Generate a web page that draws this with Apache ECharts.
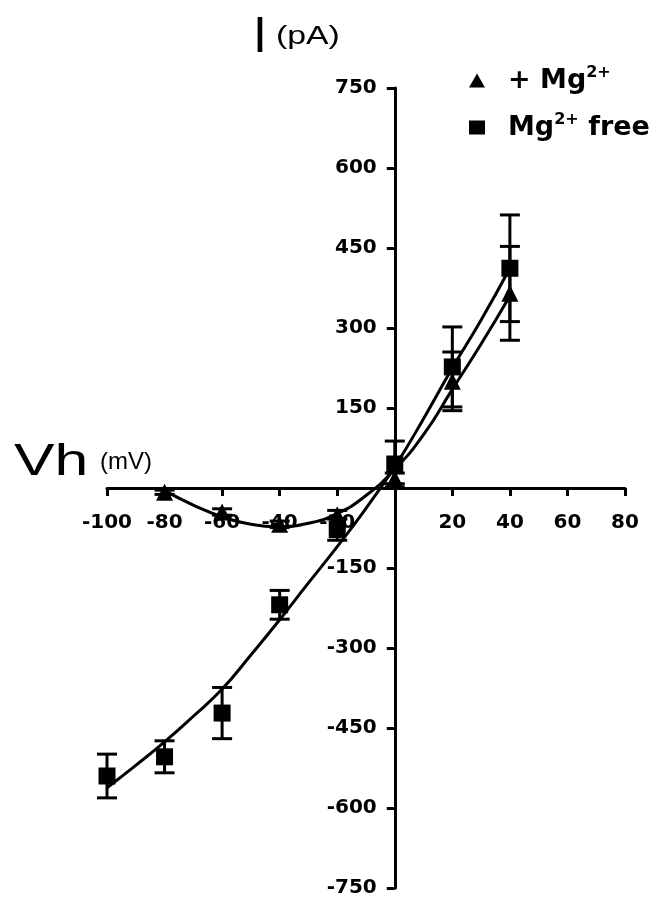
<!DOCTYPE html>
<html><head><meta charset="utf-8">
<script src="https://cdn.jsdelivr.net/npm/echarts@6/dist/echarts.min.js"></script>
<style>html,body{margin:0;padding:0;background:#fff}#c{width:660px;height:906px}</style>
</head><body><div id="c"></div>
<script>
// Data
const xTicks = [-100, -80, -60, -40, -20, 0, 20, 40, 60, 80];
const yTicks = [-750, -600, -450, -300, -150, 0, 150, 300, 450, 600, 750];

const freeV   = [-100, -80, -60, -40, -20, 0, 20, 40];
const freeI   = [-540, -504, -422, -219, -78, 45, 227, 412];
const freeErr = [41, 30, 48, 27, 20, 43, 75, 100];

const mgV   = [-80, -60, -40, -20, 0, 20, 40];
const mgI   = [-8, -45, -68, -50, 18, 200, 365];
const mgErr = [4, 6, 6, 8, 10, 55, 88];

const fitFreeV = [-100, -90, -80, -70, -60, -50, -40, -30, -20, -10, 0, 10, 20, 30, 40];
const fitFreeI = [-562, -520, -476, -428, -377, -313, -247, -178, -110, -38, 40, 130, 225, 315, 412];
const fitMgV = [-80, -70, -60, -50, -40, -30, -20, -10, 0, 10, 20, 30, 40];
const fitMgI = [-5, -32, -54, -68, -72, -66, -48, -14, 35, 100, 185, 270, 360];

const zip = (a, b) => a.map((v, i) => [v, b[i]]);
const errData = (v, m, e) => v.map((x, i) => [x, m[i] - e[i], m[i] + e[i]]);

function errRender(params, api) {
  const x = api.value(0);
  const lo = api.coord([x, api.value(1)]);
  const hi = api.coord([x, api.value(2)]);
  const w = 10;
  const st = { stroke: '#000', lineWidth: 3 };
  return { type: 'group', children: [
    { type: 'line', shape: { x1: lo[0], y1: lo[1], x2: hi[0], y2: hi[1] }, style: st },
    { type: 'line', shape: { x1: lo[0] - w, y1: lo[1], x2: lo[0] + w, y2: lo[1] }, style: st },
    { type: 'line', shape: { x1: hi[0] - w, y1: hi[1], x2: hi[0] + w, y2: hi[1] }, style: st }
  ]};
}

const GL = 107, GR = 35, GT = 88, GB = 18;
const W = 660, H = 906;
const plotW = W - GL - GR, plotH = H - GT - GB;
const xMin = xTicks[0], xMax = xTicks[xTicks.length - 1];
const yMin = yTicks[0], yMax = yTicks[yTicks.length - 1];
// shift axes so they cross at the origin
const yAxisOffset = -plotW * (0 - xMin) / (xMax - xMin);
const xAxisOffset = -plotH * (0 - yMin) / (yMax - yMin);

const chart = echarts.init(document.getElementById('c'));
const lab = { fontFamily: 'DejaVu Sans', fontWeight: 'bold', fontSize: 20, color: '#000' };
const titleFont = 'Liberation Sans';
chart.setOption({
  animation: false,
  backgroundColor: '#fff',
  grid: { left: GL, right: GR, top: GT, bottom: GB },
  xAxis: {
    type: 'value', min: xMin, max: xMax, interval: 20, offset: xAxisOffset,
    axisLine: { onZero: false, lineStyle: { color: '#000', width: 3 } },
    axisTick: { length: 8, lineStyle: { color: '#000', width: 3 } },
    axisLabel: Object.assign({ margin: 25, formatter: v => (v === 0 ? '' : String(v)) }, lab),
    splitLine: { show: false }
  },
  yAxis: {
    type: 'value', min: yMin, max: yMax, interval: 150, offset: yAxisOffset,
    axisLine: { onZero: false, lineStyle: { color: '#000', width: 3 } },
    axisTick: { length: 8, lineStyle: { color: '#000', width: 3 } },
    axisLabel: Object.assign({ margin: 18, formatter: v => (v === 0 ? '' : String(v)) }, lab),
    splitLine: { show: false }
  },
  legend: {
    orient: 'vertical', left: 469, top: 65, padding: 0, itemGap: 18, itemWidth: 16, itemHeight: 14,
    data: [{ name: 'mg', icon: 'triangle' }, { name: 'free', icon: 'rect' }],
    itemStyle: { color: '#000', opacity: 1 },
    formatter: n => n === 'mg' ? '{g| }{b|+ Mg}{s|2+}' : '{g| }{b|Mg}{s|2+}{b| free}',
    textStyle: {
      rich: {
        g: { width: 18, fontSize: 10 },
        b: { fontFamily: 'DejaVu Sans', fontWeight: 'bold', fontSize: 27, color: '#000' },
        s: { fontFamily: 'DejaVu Sans', fontWeight: 'bold', fontSize: 16, color: '#000', padding: [0, 0, 15, 0] }
      }
    }
  },
  graphic: [
    { type: 'text', x: 253, y: 13, scaleX: 1.0, style: { text: 'I', fontFamily: titleFont, fontSize: 50, fill: '#000' } },
    { type: 'text', x: 276, y: 24, scaleX: 1.3, style: { text: '(pA)', fontFamily: titleFont, fontSize: 26, fill: '#000' } },
    { type: 'text', x: 14, y: 440, scaleX: 1.35, style: { text: 'Vh', fontFamily: titleFont, fontSize: 45, fill: '#000' } },
    { type: 'text', x: 100, y: 450, scaleX: 1.0, style: { text: '(mV)', fontFamily: titleFont, fontSize: 24, fill: '#000' } }
  ],
  series: [
    { type: 'line', data: zip(fitFreeV, fitFreeI), smooth: true, symbol: 'none',
      lineStyle: { color: '#000', width: 3 }, z: 2 },
    { type: 'line', data: zip(fitMgV, fitMgI), smooth: true, symbol: 'none',
      lineStyle: { color: '#000', width: 3 }, z: 2 },
    { type: 'custom', data: errData(freeV, freeI, freeErr), renderItem: errRender,
      encode: { x: 0, y: [1, 2] }, z: 3 },
    { type: 'custom', data: errData(mgV, mgI, mgErr), renderItem: errRender,
      encode: { x: 0, y: [1, 2] }, z: 3 },
    { name: 'free', type: 'scatter', data: zip(freeV, freeI), symbol: 'rect', symbolSize: 17,
      itemStyle: { color: '#000', opacity: 1 }, z: 4 },
    { name: 'mg', type: 'scatter', data: zip(mgV, mgI), symbol: 'triangle', symbolSize: 17,
      itemStyle: { color: '#000', opacity: 1 }, z: 4 }
  ]
});
</script></body></html>
